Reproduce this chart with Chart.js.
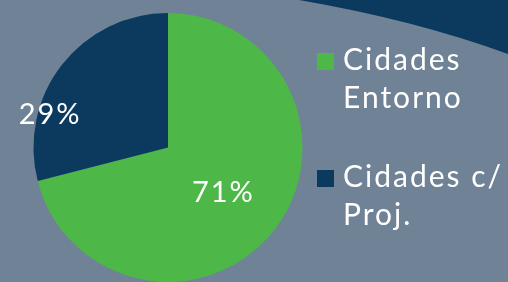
<!DOCTYPE html>
<html>
<head>
<meta charset="utf-8">
<script src="https://cdn.jsdelivr.net/npm/chart.js@4"></script>
<style>
  html, body { margin: 0; padding: 0; background: #708296; }
  #wrap { width: 508px; height: 282px; position: relative; }
</style>
</head>
<body>
<div id="wrap"><canvas id="pieChart" width="508" height="282"></canvas></div>
<script>
// Data for the pie chart
const categories = [['Cidades', 'Entorno'], ['Cidades c/', 'Proj.']];
const shares = [71, 29];
const sliceColors = ['#4db848', '#0b3a5e'];

const FONT = 'Lato, "Noto Sans", sans-serif';

// background + dark band in the top right corner
const backdrop = {
    id: 'backdrop',
    beforeDraw(chart) {
        const ctx = chart.ctx;
        ctx.save();
        ctx.fillStyle = '#708296';
        ctx.fillRect(0, 0, chart.width, chart.height);
        ctx.fillStyle = '#0b3a5e';
        ctx.beginPath();
        ctx.moveTo(299, 0);
        ctx.quadraticCurveTo(415, 20, 508, 54);
        ctx.lineTo(508, 0);
        ctx.closePath();
        ctx.fill();
        ctx.restore();
    }
};

// percentage labels on the slices
const sliceLabels = {
    id: 'sliceLabels',
    afterDatasetsDraw(chart) {
        const ctx = chart.ctx;
        const meta = chart.getDatasetMeta(0);
        const total = shares.reduce((a, b) => a + b, 0);
        // where each label sits: fraction of radius, angle offset from slice middle
        const place = [{ f: 0.52, da: 0.02 }, { f: 0.92, da: -0.38 }];
        ctx.save();
        ctx.fillStyle = '#ffffff';
        ctx.font = '29px ' + FONT;
        ctx.letterSpacing = '2px';
        ctx.textAlign = 'center';
        ctx.textBaseline = 'alphabetic';
        meta.data.forEach((arc, i) => {
            const a = (arc.startAngle + arc.endAngle) / 2 + place[i].da;
            const r = arc.outerRadius * place[i].f;
            const x = arc.x + Math.cos(a) * r;
            const y = arc.y + Math.sin(a) * r;
            ctx.fillText(Math.round(shares[i] / total * 100) + '%', x + 1, y + 11);
        });
        ctx.restore();
    }
};

// legend drawn on the right, two lines per item
const sideLegend = {
    id: 'sideLegend',
    afterDraw(chart) {
        const ctx = chart.ctx;
        const items = chart.data.labels;
        const colors = chart.data.datasets[0].backgroundColor;
        ctx.save();
        ctx.font = '30px ' + FONT;
        ctx.letterSpacing = '2px';
        ctx.textBaseline = 'alphabetic';
        items.forEach((lines, i) => {
            const top = 53 + i * 117;
            ctx.fillStyle = colors[i];
            ctx.fillRect(317, top, 17, 17);
            ctx.fillStyle = '#ffffff';
            lines.forEach((t, j) => {
                ctx.fillText(t, 343, top + 17 + j * 38);
            });
        });
        ctx.restore();
    }
};

const pieData = {
    labels: categories,
    datasets: [{
        data: shares,
        backgroundColor: sliceColors,
        borderWidth: 0
    }]
};

const pieOptions = {
    type: 'pie',
    data: pieData,
    options: {
        responsive: false,
        animation: false,
        layout: { padding: { left: 32, right: 204, top: 13, bottom: -3 } },
        plugins: {
            legend: { display: false },
            tooltip: { enabled: false }
        }
    },
    plugins: [backdrop, sliceLabels, sideLegend]
};

document.addEventListener('DOMContentLoaded', function () {
    new Chart(document.getElementById('pieChart'), pieOptions);
});
</script>
</body>
</html>
